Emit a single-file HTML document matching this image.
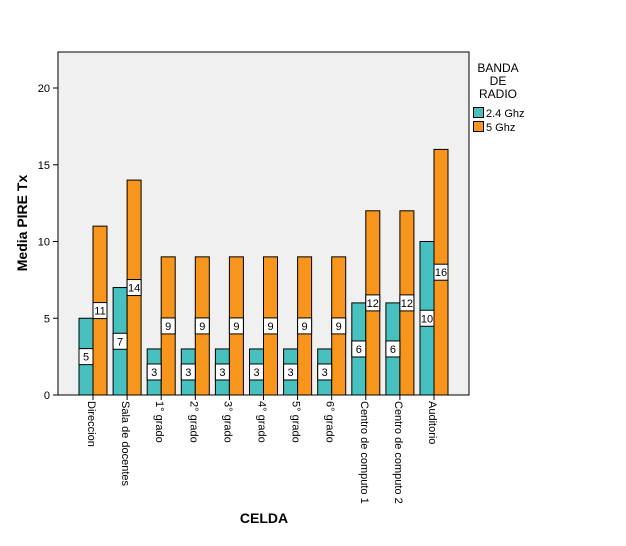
<!DOCTYPE html>
<html><head><meta charset="utf-8"><style>
body{margin:0;background:#fff;font-family:"Liberation Sans",Arial,sans-serif}
</style></head><body>
<svg id="c" width="626" height="541" xmlns="http://www.w3.org/2000/svg" font-family="Liberation Sans, Arial, sans-serif">
<rect x="58" y="52" width="411" height="343" fill="#f0f0f0" stroke="#000" stroke-width="1"/>
<g id="bars"></g>
<text transform="translate(27,223) rotate(-90)" text-anchor="middle" font-size="14" font-weight="bold">Media PIRE Tx</text>
<text x="264" y="523" text-anchor="middle" font-size="14" font-weight="bold">CELDA</text>
<g>
<text x="498" y="72" text-anchor="middle" font-size="12">BANDA</text>
<text x="498" y="85" text-anchor="middle" font-size="12">DE</text>
<text x="498" y="98" text-anchor="middle" font-size="12">RADIO</text>
<rect x="473.5" y="107.5" width="10" height="10" fill="#48c0c0" stroke="#000"/>
<text x="486" y="117" font-size="11">2.4 Ghz</text>
<rect x="473.5" y="121.5" width="10" height="10" fill="#f7951c" stroke="#000"/>
<text x="486" y="131" font-size="11">5 Ghz</text>
</g>
</svg>
<script>
const categories=["Direccion","Sala de docentes","1° grado","2° grado","3° grado","4° grado","5° grado","6° grado","Centro de computo 1","Centro de computo 2","Auditorio"];
const ghz24=[5,7,3,3,3,3,3,3,6,6,10];
const ghz5=[11,14,9,9,9,9,9,9,12,12,16];
const yTicks=[0,5,10,15,20];
const NS="http://www.w3.org/2000/svg";
const svg=document.getElementById('c'),g=document.getElementById('bars');
const y=v=>395-v*15.35;
const xc=i=>93+i*34.1;
function mk(t,a,p){const e=document.createElementNS(NS,t);for(const k in a)e.setAttribute(k,a[k]);(p||g).appendChild(e);return e;}
yTicks.forEach(t=>{
 const l=mk('line',{x1:53,x2:58,y1:y(t),y2:y(t),stroke:'#000'});
 
 
 const tx=mk('text',{x:50,y:y(t)+4,'text-anchor':'end','font-size':11});
 
 
 tx.textContent=t;
});
function label(cx,v){
 const cy=(y(v)+395)/2;
 const r=mk('rect',{x:cx-7,y:cy-8,width:14,height:16,fill:'#fff',stroke:'#000'});
 
 
 const t=mk('text',{x:cx,y:cy+4,'text-anchor':'middle','font-size':11});
 
 
 t.textContent=v;
}
categories.forEach((c,i)=>{
 const x=xc(i);
 const a=mk('rect',{x:x-14,y:y(ghz24[i]),width:14,height:395-y(ghz24[i]),fill:'#48c0c0',stroke:'#000'});
 
 
 const b=mk('rect',{x:x,y:y(ghz5[i]),width:14,height:395-y(ghz5[i]),fill:'#f7951c',stroke:'#000'});
 
 
 label(x-7,ghz24[i]);label(x+7,ghz5[i]);
 const tk=mk('line',{x1:x,x2:x,y1:395,y2:400,stroke:'#000'});
 
 
 const t=mk('text',{transform:`translate(${x-5},401) rotate(90)`,'font-size':11});
 
 
 t.textContent=c;
});
</script>
</body></html>
